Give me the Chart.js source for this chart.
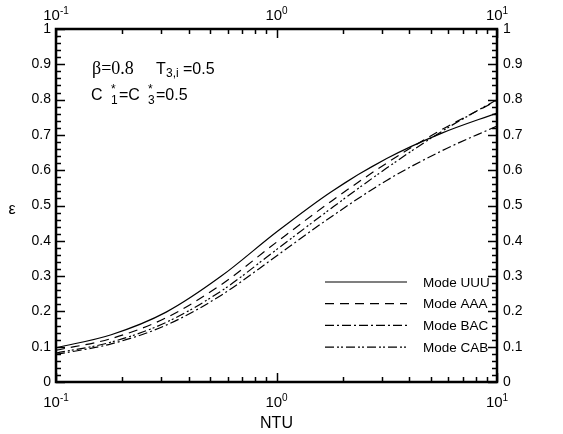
<!DOCTYPE html>
<html>
<head>
<meta charset="utf-8">
<script src="https://cdn.jsdelivr.net/npm/chart.js@4.4.0/dist/chart.umd.min.js"></script>
<style>
  html, body { margin: 0; padding: 0; background: #fff; }
</style>
</head>
<body>
<canvas id="chart" width="563" height="434"></canvas>
<script>
// effectiveness vs NTU
const ntu = [0.1, 0.178, 0.316, 0.562, 1, 1.78, 3.16, 5.62, 10];
const modeUUU = [0.097, 0.134, 0.198, 0.300, 0.425, 0.540, 0.633, 0.705, 0.762];
const modeAAA = [0.090, 0.123, 0.182, 0.276, 0.396, 0.513, 0.620, 0.715, 0.797];
const modeBAC = [0.078, 0.108, 0.161, 0.246, 0.357, 0.469, 0.571, 0.655, 0.725];
const modeCAB = [0.082, 0.113, 0.169, 0.258, 0.375, 0.493, 0.606, 0.710, 0.800];

const xTicks = [0.1, 1, 10];
const xTickExp = ["-1", "0", "1"];
const yTicks = [0, 0.1, 0.2, 0.3, 0.4, 0.5, 0.6, 0.7, 0.8, 0.9, 1];
const yTickLabels = ["0", "0.1", "0.2", "0.3", "0.4", "0.5", "0.6", "0.7", "0.8", "0.9", "1"];

const sans = "'Liberation Sans', Arial, Helvetica, sans-serif";
const serif = "'Liberation Serif', 'Times New Roman', serif";

function pts(ys) {
  return ntu.map((x, i) => ({ x: x, y: ys[i] }));
}

function line(label, ys, dash) {
  return {
    label: label,
    data: pts(ys),
    borderColor: "#000",
    borderWidth: 1.2,
    borderDash: dash,
    pointRadius: 0,
    fill: false,
    cubicInterpolationMode: "monotone"
  };
}

// frame, inward ticks on all four sides, labels, legend and text
const framePlugin = {
  id: "frame",
  afterDraw(chart) {
    const ctx = chart.ctx;
    const a = chart.chartArea;
    const xs = chart.scales.x;
    const ys = chart.scales.y;
    ctx.save();
    ctx.strokeStyle = "#000";
    ctx.fillStyle = "#000";

    // ticks
    ctx.lineWidth = 1.5;
    ctx.beginPath();
    for (let d = 0.1; d < 10; d *= 10) {
      for (let k = 1; k <= 10; k++) {
        const v = k * d;
        if (v > 10.0001) continue;
        const px = Math.round(xs.getPixelForValue(v)) + 0.5;
        const len = (k === 1 || k === 10) ? 9 : 5;
        ctx.moveTo(px, a.bottom); ctx.lineTo(px, a.bottom - len);
        ctx.moveTo(px, a.top); ctx.lineTo(px, a.top + len);
      }
    }
    for (let i = 0; i <= 50; i++) {
      const v = i * 0.02;
      const py = Math.round(ys.getPixelForValue(v)) + 0.5;
      const len = (i % 5 === 0) ? 9 : 5;
      ctx.moveTo(a.left, py); ctx.lineTo(a.left + len, py);
      ctx.moveTo(a.right, py); ctx.lineTo(a.right - len, py);
    }
    ctx.stroke();

    // frame
    ctx.lineWidth = 2.5;
    ctx.strokeRect(a.left, a.top, a.right - a.left, a.bottom - a.top);

    // y tick labels
    ctx.font = "14px " + sans;
    ctx.textBaseline = "middle";
    yTicks.forEach((v, i) => {
      const py = ys.getPixelForValue(v);
      ctx.textAlign = "right";
      ctx.fillText(yTickLabels[i], a.left - 5, py);
      ctx.textAlign = "left";
      ctx.fillText(yTickLabels[i], a.right + 6, py);
    });

    // x tick labels 10^n, top and bottom
    ctx.textBaseline = "alphabetic";
    ctx.textAlign = "left";
    xTicks.forEach((v, i) => {
      const px = xs.getPixelForValue(v);
      ctx.font = "15px " + sans;
      const w1 = ctx.measureText("10").width;
      ctx.font = "10px " + sans;
      const w2 = ctx.measureText(xTickExp[i]).width;
      const x0 = px - (w1 + w2) / 2;
      [20, 407].forEach(base => {
        ctx.font = "15px " + sans;
        ctx.fillText("10", x0, base);
        ctx.font = "10px " + sans;
        ctx.fillText(xTickExp[i], x0 + w1, base - 6);
      });
    });

    // axis titles
    ctx.font = "16px " + sans;
    ctx.textAlign = "center";
    ctx.fillText("NTU", xs.getPixelForValue(1), 428);
    ctx.fillText("\u03b5", 12, 214);

    // parameter text
    ctx.textAlign = "left";
    ctx.font = "18px " + serif;
    ctx.fillText("\u03b2=0.8", 92, 74);
    ctx.font = "16px " + sans;
    ctx.fillText("T", 156, 74);
    ctx.font = "12px " + sans;
    ctx.fillText("3,i", 166, 77);
    ctx.font = "16px " + sans;
    ctx.fillText("=0.5", 183, 74);

    ctx.fillText("C", 91, 100);
    ctx.font = "12px " + sans;
    ctx.fillText("*", 111, 93);
    ctx.fillText("1", 111, 104);
    ctx.font = "16px " + sans;
    ctx.fillText("=C", 119, 100);
    ctx.font = "12px " + sans;
    ctx.fillText("*", 148, 93);
    ctx.fillText("3", 148, 104);
    ctx.font = "16px " + sans;
    ctx.fillText("=0.5", 156, 100);

    // legend
    ctx.font = "13.5px " + sans;
    ctx.textBaseline = "middle";
    chart.data.datasets.forEach((ds, i) => {
      const y = 282 + i * 21.7;
      ctx.lineWidth = 1.2;
      ctx.setLineDash(ds.borderDash || []);
      ctx.beginPath();
      ctx.moveTo(325, y);
      ctx.lineTo(407, y);
      ctx.stroke();
      ctx.setLineDash([]);
      ctx.fillText(ds.label, 423, y + 1);
    });
    ctx.restore();
  }
};

new Chart(document.getElementById("chart"), {
  type: "line",
  data: {
    datasets: [
      line("Mode UUU", modeUUU, []),
      line("Mode AAA", modeAAA, [9, 6]),
      line("Mode BAC", modeBAC, [9, 3, 2, 3]),
      line("Mode CAB", modeCAB, [9, 3, 2, 2, 2, 3])
    ]
  },
  options: {
    responsive: false,
    animation: false,
    layout: { padding: { left: 56, right: 66, top: 29, bottom: 52 } },
    plugins: {
      legend: { display: false },
      tooltip: { enabled: false }
    },
    scales: {
      x: { type: "logarithmic", min: 0.1, max: 10, display: false },
      y: { type: "linear", min: 0, max: 1, display: false }
    }
  },
  plugins: [framePlugin]
});
</script>
</body>
</html>
